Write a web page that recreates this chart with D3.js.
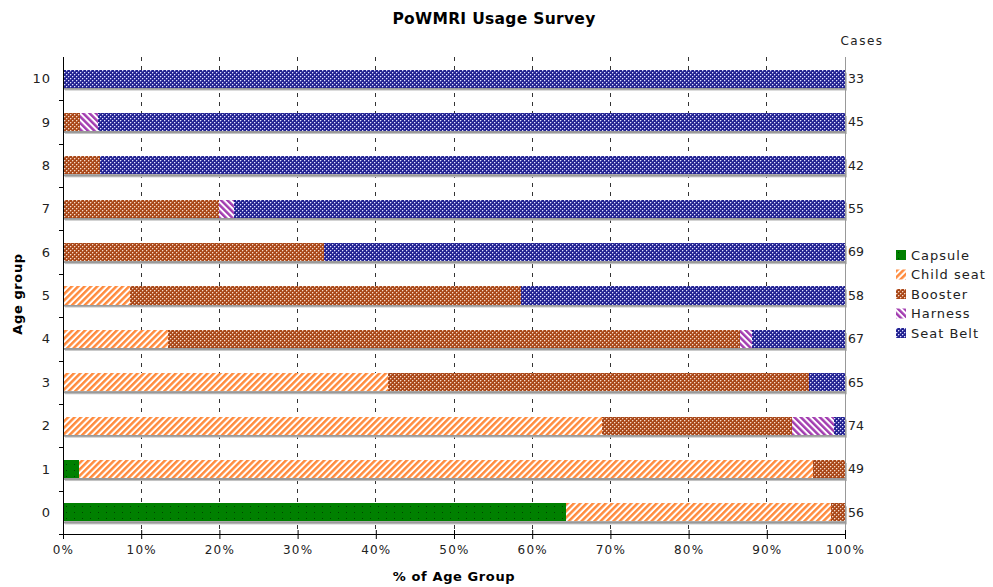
<!DOCTYPE html>
<html><head><meta charset="utf-8">
<script src="https://cdn.jsdelivr.net/npm/d3@7"></script>
<style>body{margin:0;background:#fff;}svg{display:block;font-family:"DejaVu Sans",Verdana,sans-serif;}</style>
</head><body>
<svg id="chart" width="993" height="587"></svg>
<script>
// Data: number of cases per age group by restraint type
const ageGroups = ["10","9","8","7","6","5","4","3","2","1","0"];
const seriesNames = ["Capsule","Child seat","Booster","Harness","Seat Belt"];
const capsule   = [0, 0, 0, 0, 0, 0, 0, 0, 0, 1, 36];
const childSeat = [0, 0, 0, 0, 0, 5, 9, 27, 51, 46, 19];
const booster   = [0, 1, 2, 11, 23, 29, 49, 35, 18, 2, 1];
const harness   = [0, 1, 0, 1, 0, 0, 1, 0, 4, 0, 0];
const seatBelt  = [33, 43, 40, 43, 46, 24, 8, 3, 1, 0, 0];
const cases     = [33, 45, 42, 55, 69, 58, 67, 65, 74, 49, 56];
const xTicks    = [0,10,20,30,40,50,60,70,80,90,100];

const svg = d3.select("#chart");
const m = {left:63, right:845, top:57, bottom:534};

// Patterns
const defs = svg.append("defs");
function dotPattern(id, bg, mid, dot){
  const p = defs.append("pattern").attr("id",id).attr("patternUnits","userSpaceOnUse")
    .attr("width",4).attr("height",4);
  p.append("rect").attr("width",4).attr("height",4).attr("fill",bg);
  p.append("rect").attr("x",0).attr("y",1).attr("width",1).attr("height",1).attr("fill",mid);
  p.append("rect").attr("x",1).attr("y",0).attr("width",1).attr("height",1).attr("fill",mid);
  p.append("rect").attr("x",2).attr("y",3).attr("width",1).attr("height",1).attr("fill",mid);
  p.append("rect").attr("x",3).attr("y",2).attr("width",1).attr("height",1).attr("fill",mid);
  p.append("rect").attr("x",0).attr("y",0).attr("width",1).attr("height",1).attr("fill",dot);
  p.append("rect").attr("x",2).attr("y",2).attr("width",1).attr("height",1).attr("fill",dot);
}
function stripePattern(id, color, dir, w){
  const p = defs.append("pattern").attr("id",id).attr("patternUnits","userSpaceOnUse")
    .attr("width",w).attr("height",w)
    .attr("patternTransform","rotate("+(dir>0?45:-45)+")");
  p.append("rect").attr("width",w).attr("height",w).attr("fill","#fff");
  p.append("rect").attr("width",w*0.55).attr("height",w).attr("fill",color);
}
(function(){
  const p = defs.append("pattern").attr("id","pCapsule").attr("patternUnits","userSpaceOnUse")
    .attr("width",8).attr("height",6);
  p.append("rect").attr("width",8).attr("height",6).attr("fill","#008000");
  p.append("rect").attr("x",2).attr("y",2).attr("width",1).attr("height",1).attr("fill","#004400");
})();
stripePattern("pChild","#ff8a3c",1,4.5);
dotPattern("pBooster","#a8481a","#c87850","#f4dccc");
stripePattern("pHarness","#a23cb0",-1,4.5);
dotPattern("pSeat","#24248e","#5a5ac0","#e4e4fa");
const fills = ["url(#pCapsule)","url(#pChild)","url(#pBooster)","url(#pHarness)","url(#pSeat)"];

const x = d3.scaleLinear().domain([0,100]).range([m.left,m.right]);
const y = d3.scaleBand().domain(ageGroups).range([m.top,m.bottom]).paddingInner(0.585).paddingOuter(0.29);

// gridlines
svg.append("g").selectAll("line").data(xTicks.filter(t=>t>0&&t<100)).join("line")
  .attr("x1",d=>x(d)).attr("x2",d=>x(d)).attr("y1",m.top).attr("y2",m.bottom)
  .attr("stroke","#333").attr("stroke-width",1).attr("stroke-dasharray","4,5")
  .attr("shape-rendering","crispEdges");

const rows = ageGroups.map((g,i)=>{
  const vals = [capsule[i],childSeat[i],booster[i],harness[i],seatBelt[i]];
  const tot = d3.sum(vals);
  let acc = 0;
  return {g, segs: vals.map((v,k)=>{const s={k,x0:acc/tot*100,x1:(acc+v)/tot*100}; acc+=v; return s;})};
});

// shadows
svg.append("g").selectAll("rect").data(rows).join("rect")
  .attr("x",x(0)+2).attr("y",d=>y(d.g)+3).attr("width",x(100)-x(0))
  .attr("height",y.bandwidth()).attr("fill","#c4c4c4");
svg.append("g").selectAll("rect").data(rows).join("rect")
  .attr("x",x(0)+1).attr("y",d=>y(d.g)+y.bandwidth()).attr("width",x(100)-x(0))
  .attr("height",2).attr("fill","#999");

const gb = svg.append("g");
rows.forEach(r=>{
  gb.selectAll(null).data(r.segs.filter(s=>s.x1>s.x0)).join("rect")
    .attr("x",s=>x(s.x0)).attr("width",s=>x(s.x1)-x(s.x0))
    .attr("y",y(r.g)).attr("height",y.bandwidth())
    .attr("fill",s=>fills[s.k]).attr("shape-rendering","crispEdges");
});

// right border
svg.append("line").attr("x1",m.right+0.5).attr("x2",m.right+0.5).attr("y1",m.top).attr("y2",m.bottom)
  .attr("stroke","#999");

// bottom axis
const xa = svg.append("g").attr("transform",`translate(0,${m.bottom})`)
  .call(d3.axisBottom(x).tickValues(xTicks).tickFormat(d=>d+"%").tickSizeInner(5).tickSizeOuter(0));
xa.select(".domain").attr("stroke","#000");
xa.selectAll(".tick line").attr("y1",-4).attr("y2",5).attr("stroke","#000");
xa.selectAll("text").attr("font-size",12).attr("dy","0.71em").attr("y",11).attr("fill","#222")
  .attr("font-family","DejaVu Sans, Verdana, sans-serif").style("letter-spacing","1.2px");

// left axis
svg.append("line").attr("x1",m.left+0.5).attr("x2",m.left+0.5).attr("y1",m.top).attr("y2",m.bottom+4).attr("stroke","#000");
const step = y.step();
const bounds = d3.range(1, ageGroups.length).map(i=>y(ageGroups[i]) - (step - y.bandwidth())/2);
svg.append("g").selectAll("line").data(bounds).join("line")
  .attr("x1",m.left-4).attr("x2",m.left).attr("y1",d=>Math.round(d)+0.5).attr("y2",d=>Math.round(d)+0.5).attr("stroke","#000");
svg.append("line").attr("x1",m.left-4).attr("x2",m.left+4).attr("y1",m.bottom+0.5).attr("y2",m.bottom+0.5).attr("stroke","#000");
svg.append("g").selectAll("text").data(ageGroups).join("text")
  .attr("x",51).attr("y",d=>y(d)+y.bandwidth()/2).attr("dy","0.35em").attr("text-anchor","end")
  .attr("font-size",13).attr("fill","#222").style("letter-spacing","1px").text(d=>d);

// cases labels
svg.append("g").selectAll("text").data(ageGroups).join("text")
  .attr("x",848).attr("y",d=>y(d)+y.bandwidth()/2).attr("dy","0.35em")
  .attr("font-size",12.5).attr("fill","#222").text((d,i)=>cases[i]);
svg.append("text").attr("x",862).attr("y",45).attr("text-anchor","middle")
  .attr("font-size",12).attr("fill","#222").style("letter-spacing","1.5px").text("Cases");

// titles
svg.append("text").attr("x",494).attr("y",24).attr("text-anchor","middle")
  .attr("font-size",15.5).attr("font-weight","bold").attr("fill","#000").style("letter-spacing","0.3px").text("PoWMRI Usage Survey");
svg.append("text").attr("x",454).attr("y",581).attr("text-anchor","middle")
  .attr("font-size",13).attr("font-weight","bold").attr("fill","#000").style("letter-spacing","0.6px").text("% of Age Group");
svg.append("text").attr("transform","translate(22,294) rotate(-90)").attr("text-anchor","middle")
  .attr("font-size",13).attr("font-weight","bold").attr("fill","#000").style("letter-spacing","0.6px").text("Age group");

// legend
const lg = svg.append("g").attr("transform","translate(896,250)");
const li = lg.selectAll("g").data(seriesNames).join("g").attr("transform",(d,i)=>`translate(0,${i*19.5})`);
li.append("rect").attr("width",10).attr("height",10).attr("fill",(d,i)=>fills[i]);
li.append("text").attr("x",15).attr("y",5).attr("dy","0.35em").attr("font-size",13)
  .attr("fill","#222").style("letter-spacing","1px").text(d=>d);
</script>
</body></html>
